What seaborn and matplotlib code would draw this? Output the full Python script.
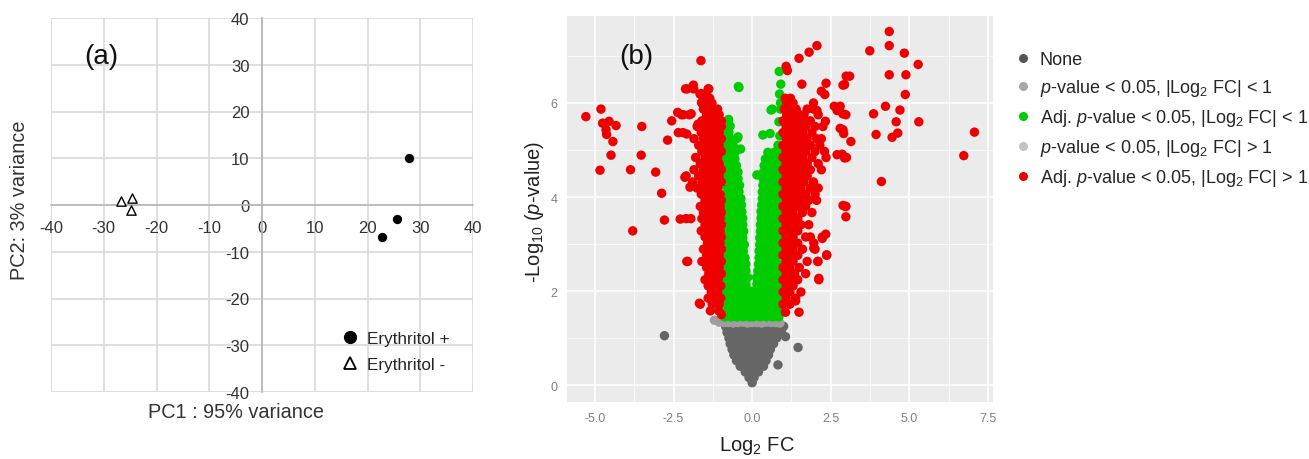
import matplotlib
matplotlib.use("Agg")
import matplotlib.pyplot as plt
from matplotlib.lines import Line2D
import seaborn as sns
import pandas as pd

# ---------------- Panel (a): PCA ----------------
pca_plus_x = [27.8, 25.6, 22.8]
pca_plus_y = [10.0, -3.1, -6.9]
pca_minus_x = [-26.7, -24.6, -24.9]
pca_minus_y = [0.8, 1.5, -1.0]
pca_ticks = [-40, -30, -20, -10, 0, 10, 20, 30, 40]

# ---------------- Panel (b): volcano ----------------
# dense gray triangle ("None"), rows of (y, x values)
none_rows = [
    (0.05, [0.0]),
    (0.16, [-0.1, 0.06]),
    (0.28, [-0.22, -0.06, 0.1, 0.2]),
    (0.40, [-0.38, -0.22, -0.06, 0.1, 0.26, 0.36]),
    (0.52, [-0.5, -0.34, -0.18, -0.02, 0.14, 0.3, 0.44]),
    (0.64, [-0.58, -0.42, -0.26, -0.1, 0.06, 0.22, 0.38, 0.52]),
    (0.76, [-0.64, -0.48, -0.32, -0.16, 0.0, 0.16, 0.32, 0.48, 0.58]),
    (0.88, [-0.7, -0.54, -0.38, -0.22, -0.06, 0.1, 0.26, 0.42, 0.58, 0.68]),
    (1.00, [-0.74, -0.58, -0.42, -0.26, -0.1, 0.06, 0.22, 0.38, 0.54, 0.7, 0.78]),
    (1.12, [-0.8, -0.64, -0.48, -0.32, -0.16, 0.0, 0.16, 0.32, 0.48, 0.64, 0.8]),
    (1.24, [-0.84, -0.68, -0.52, -0.36, -0.2, -0.04, 0.12, 0.28, 0.44, 0.6, 0.76, 0.86]),
]
none_extra_x = [-2.79, 1.06, 1.46, 0.82, 1.0, 0.93]
none_extra_y = [1.05, 1.03, 0.80, 0.43, 1.25, 1.15]

# light gray band (p-value < 0.05, |Log2 FC| < 1)
pval_small_x = [-1.2, -1.05, -0.9, -0.75, -0.6, -0.45, -0.3, -0.15, 0.0, 0.15, 0.3, 0.45, 0.6, 0.75, 0.88]
pval_small_y = [1.38, 1.34, 1.33, 1.33, 1.32, 1.33, 1.34, 1.32, 1.33, 1.33, 1.32, 1.34, 1.33, 1.33, 1.32]

# green (Adj. p-value < 0.05, |Log2 FC| < 1)
green_left_rows = [
    (1.45, [-0.88, -0.68, -0.48, -0.28, -0.08]),
    (1.59, [-0.78, -0.58, -0.38, -0.18, -0.03]),
    (1.73, [-0.88, -0.68, -0.48, -0.28, -0.08]),
    (1.87, [-0.78, -0.58, -0.38, -0.18, -0.05]),
    (2.01, [-0.88, -0.68, -0.48, -0.28, -0.1]),
    (2.15, [-0.78, -0.58, -0.38, -0.2]),
    (2.29, [-0.88, -0.68, -0.48, -0.28, -0.14]),
    (2.43, [-0.78, -0.58, -0.38, -0.2]),
    (2.57, [-0.88, -0.68, -0.48, -0.3, -0.2]),
    (2.71, [-0.78, -0.58, -0.38, -0.23]),
    (2.85, [-0.88, -0.68, -0.48, -0.28]),
    (2.99, [-0.78, -0.58, -0.4, -0.25]),
    (3.13, [-0.88, -0.68, -0.48, -0.3]),
    (3.27, [-0.78, -0.58, -0.4, -0.27]),
    (3.41, [-0.88, -0.68, -0.48, -0.3]),
    (3.55, [-0.78, -0.58, -0.42, -0.3]),
    (3.69, [-0.88, -0.68, -0.5, -0.33]),
    (3.83, [-0.78, -0.58, -0.42, -0.34]),
    (3.97, [-0.88, -0.68, -0.5, -0.36]),
    (4.11, [-0.78, -0.6, -0.42]),
    (4.25, [-0.88, -0.7, -0.52, -0.4]),
    (4.39, [-0.8, -0.62, -0.45]),
    (4.53, [-0.88, -0.7, -0.52, -0.45]),
    (4.67, [-0.8, -0.62, -0.5]),
    (4.81, [-0.88, -0.7, -0.55]),
    (4.95, [-0.8, -0.62, -0.55]),
    (5.09, [-0.88, -0.72, -0.6]),
    (5.23, [-0.82, -0.68]),
    (5.37, [-0.88, -0.74]),
    (5.51, [-0.8, -0.7]),
    (5.65, [-0.75]),
]
green_right_rows = [
    (1.45, [0.05, 0.25, 0.45, 0.65, 0.85]),
    (1.59, [0.15, 0.35, 0.55, 0.75, 0.87]),
    (1.73, [0.05, 0.25, 0.45, 0.65, 0.85]),
    (1.87, [0.15, 0.35, 0.55, 0.75, 0.87]),
    (2.01, [0.08, 0.25, 0.45, 0.65, 0.85]),
    (2.15, [0.15, 0.35, 0.55, 0.75, 0.87]),
    (2.29, [0.14, 0.3, 0.45, 0.65, 0.85]),
    (2.43, [0.18, 0.35, 0.55, 0.75, 0.87]),
    (2.57, [0.2, 0.38, 0.56, 0.72, 0.87]),
    (2.71, [0.22, 0.4, 0.58, 0.75]),
    (2.85, [0.22, 0.38, 0.56, 0.72, 0.87]),
    (2.99, [0.24, 0.42, 0.6, 0.78]),
    (3.13, [0.24, 0.4, 0.56, 0.72, 0.87]),
    (3.27, [0.26, 0.44, 0.62, 0.8]),
    (3.41, [0.26, 0.42, 0.58, 0.74, 0.87]),
    (3.55, [0.28, 0.46, 0.64, 0.82]),
    (3.69, [0.28, 0.44, 0.6, 0.76, 0.87]),
    (3.83, [0.3, 0.48, 0.66, 0.84]),
    (3.97, [0.32, 0.48, 0.64, 0.8]),
    (4.11, [0.32, 0.5, 0.68, 0.86]),
    (4.25, [0.34, 0.5, 0.66, 0.82]),
    (4.39, [0.35, 0.52, 0.7, 0.87]),
    (4.53, [0.36, 0.54, 0.7, 0.84]),
    (4.67, [0.38, 0.56, 0.74, 0.88]),
    (4.81, [0.42, 0.6, 0.78]),
    (4.95, [0.5, 0.7, 0.86]),
]
green_extra_x = [0.91, 0.87, 0.86, 0.6, 0.34, 0.57, 0.15, 0.9, 0.64, 0.85, 0.88, 0.82, 0.9,
                 -0.76, -0.44, -0.96, -0.45, -0.37, -0.47, -0.42]
green_extra_y = [6.40, 6.19, 6.67, 5.85, 5.32, 5.35, 4.47, 5.87, 5.87, 5.6, 5.3, 5.1, 6.0,
                 5.64, 6.35, 5.38, 5.28, 5.02, 5.25, 6.33]

# red (Adj. p-value < 0.05, |Log2 FC| > 1)
red_left_rows = [
    (6.30, [-2.07, -1.86, -1.38]),
    (6.20, [-1.62, -1.45]),
    (6.10, [-1.55, -1.35]),
    (6.00, [-1.6, -1.45, -1.28]),
    (5.87, [-1.55, -1.4, -1.2, -1.1]),
    (5.75, [-2.25, -2.0, -1.45, -1.25, -1.05]),
    (5.62, [-1.6, -1.35, -1.15, -0.98]),
    (5.50, [-1.75, -1.5, -1.3, -1.12, -0.98]),
    (5.37, [-2.2, -1.62, -1.42, -1.22, -1.05]),
    (5.24, [-1.85, -1.55, -1.35, -1.15, -0.98]),
    (5.10, [-1.7, -1.45, -1.25, -1.05]),
    (4.97, [-1.6, -1.4, -1.2, -0.98]),
    (4.84, [-1.8, -1.5, -1.3, -1.1]),
    (4.71, [-1.65, -1.45, -1.25, -1.05]),
    (4.58, [-1.85, -1.55, -1.35, -1.15, -0.98]),
    (4.45, [-2.1, -1.7, -1.45, -1.25, -1.05]),
    (4.32, [-1.9, -1.6, -1.38, -1.18, -0.98]),
    (4.19, [-1.75, -1.5, -1.3, -1.1]),
    (4.06, [-1.62, -1.42, -1.22, -1.02]),
    (3.93, [-1.5, -1.32, -1.12, -0.98]),
    (3.80, [-1.65, -1.4, -1.2, -1.02]),
    (3.67, [-1.55, -1.32, -1.12, -0.98]),
    (3.54, [-2.1, -1.95, -1.6, -1.42, -1.22, -1.02]),
    (3.41, [-1.5, -1.3, -1.1, -0.98]),
    (3.28, [-1.62, -1.4, -1.2, -1.02]),
    (3.15, [-1.5, -1.3, -1.1, -0.98]),
    (3.02, [-1.42, -1.22, -1.02]),
    (2.89, [-1.55, -1.32, -1.12, -0.98]),
    (2.76, [-1.45, -1.25, -1.05]),
    (2.63, [-2.05, -1.6, -1.35, -1.15, -0.98]),
    (2.50, [-1.45, -1.25, -1.05]),
    (2.37, [-1.38, -1.18, -0.98]),
    (2.24, [-1.5, -1.28, -1.08]),
    (2.11, [-1.4, -1.2, -1.0]),
    (1.98, [-1.3, -1.1]),
    (1.85, [-1.4, -1.2, -1.0]),
    (1.72, [-1.65, -1.27, -1.05]),
    (1.58, [-1.33, -1.06]),
    (1.50, [-0.98]),
]
red_right_rows = [
    (6.10, [1.05, 1.22]),
    (6.00, [1.1, 1.3, 1.95]),
    (5.87, [1.02, 1.2, 1.4, 1.75, 1.95]),
    (5.75, [1.1, 1.3, 1.5, 1.65, 2.1]),
    (5.62, [0.98, 1.18, 1.38, 1.58, 1.85]),
    (5.50, [1.08, 1.28, 1.48, 1.7, 2.0, 2.25]),
    (5.37, [0.98, 1.18, 1.38, 1.6, 1.9]),
    (5.24, [1.08, 1.28, 1.48, 1.75, 2.05, 2.2]),
    (5.10, [0.98, 1.18, 1.38, 1.6, 1.85, 2.15]),
    (4.97, [1.08, 1.28, 1.5, 1.7, 2.0, 2.3]),
    (4.84, [0.98, 1.18, 1.38, 1.6, 1.9, 2.35]),
    (4.71, [1.08, 1.28, 1.5, 1.75, 2.1]),
    (4.58, [0.98, 1.18, 1.4, 1.6, 1.85, 2.2]),
    (4.45, [1.08, 1.28, 1.5, 1.75]),
    (4.32, [0.98, 1.18, 1.4, 1.65, 1.95]),
    (4.19, [1.08, 1.3, 1.55, 1.85, 2.1]),
    (4.06, [0.98, 1.2, 1.42, 1.7, 2.0]),
    (3.93, [1.08, 1.3, 1.55, 1.8, 2.05]),
    (3.80, [0.98, 1.2, 1.45, 1.7]),
    (3.67, [1.08, 1.3, 1.6, 1.9]),
    (3.54, [0.98, 1.2, 1.45]),
    (3.41, [1.08, 1.3, 1.55, 1.8]),
    (3.28, [0.98, 1.2, 1.45]),
    (3.15, [1.08, 1.3, 1.7, 1.85, 2.23]),
    (3.02, [0.98, 1.2, 1.45, 1.96]),
    (2.89, [1.08, 1.3, 1.6, 2.0]),
    (2.76, [0.98, 1.2, 1.45, 2.37]),
    (2.63, [1.08, 1.3, 1.75, 2.09]),
    (2.50, [0.98, 1.2, 1.5]),
    (2.37, [1.08, 1.35, 1.7]),
    (2.24, [0.98, 1.2, 1.45, 2.12]),
    (2.11, [1.08, 1.3]),
    (1.98, [0.98, 1.2, 1.55]),
    (1.85, [1.08, 1.38]),
    (1.72, [0.98, 1.2]),
    (1.55, [1.06, 1.49]),
]
red_extra_x = [
    -5.29, -4.81, -4.76, -4.55, -4.33, -4.65, -4.63, -4.43, -4.49, -4.84, -3.87, -3.51,
    -3.53, -3.07, -2.88, -2.69, -2.56, -2.37, -2.19, -1.94, -2.35, -2.08, -2.12, -1.87,
    -1.63, -1.40, -1.66, -1.61, -1.72, -2.14, -1.98, -3.80, -2.79, -2.29, -2.08, -1.68,
    4.36, 4.36, 3.74, 4.84, 5.28, 4.36, 4.89, 4.87, 3.10, 2.94, 4.24, 4.70, 3.86, 4.58,
    5.30, 3.94, 4.45, 4.63, 7.07, 6.73, 4.11, 2.80, 2.98, 2.89, 3.14, 2.86, 3.00, 2.97,
    2.98, 2.98, 2.06, 1.81, 1.49, 1.08, 1.12, 1.58, 2.35, 2.89, 2.99, 2.20, 2.31, 2.06,
    2.61, 2.70, 2.88, 2.80, 2.91, 2.33, 2.70, 2.94, 2.89, 1.38, 2.12, 2.09, 2.37, 1.96,
    2.34, 2.23,
]
red_extra_y = [
    5.71, 5.87, 5.57, 5.61, 5.52, 5.43, 5.33, 5.18, 4.89, 4.57, 4.58, 5.50,
    4.89, 4.53, 4.08, 5.21, 5.62, 5.80, 5.75, 5.77, 5.37, 5.34, 6.30, 6.38,
    6.90, 6.30, 6.19, 6.01, 5.55, 4.42, 4.21, 3.28, 3.51, 3.53, 2.63, 1.74,
    7.52, 7.22, 7.11, 7.06, 6.82, 6.60, 6.60, 6.18, 6.57, 6.39, 5.93, 5.85, 5.77, 5.60,
    5.60, 5.33, 5.27, 5.36, 5.38, 4.88, 4.33, 5.93, 5.75, 5.43, 5.18, 4.91, 4.84, 3.80,
    3.80, 3.58, 7.22, 7.08, 6.95, 6.78, 6.69, 6.40, 6.42, 6.38, 6.57, 6.25, 6.18, 5.84,
    5.93, 5.84, 5.77, 5.46, 5.35, 5.61, 4.90, 4.83, 3.82, 1.79, 2.27, 2.63, 2.77, 2.91,
    3.21, 3.12,
]

categories = ["None",
              r"$p$-value < 0.05, |Log$_2$ FC| < 1",
              r"Adj. $p$-value < 0.05, |Log$_2$ FC| < 1",
              r"$p$-value < 0.05, |Log$_2$ FC| > 1",
              r"Adj. $p$-value < 0.05, |Log$_2$ FC| > 1"]
plot_colors = ["#666666", "#9e9e9e", "#00CC00", "#bdbdbd", "#EE0000"]
legend_colors = ["#555555", "#a8a8a8", "#00CC00", "#c4c4c4", "#EE0000"]
x_ticks_b = [-5.0, -2.5, 0.0, 2.5, 5.0, 7.5]
y_ticks_b = [0, 2, 4, 6]


def expand(rows):
    xs, ys = [], []
    for yv, xrow in rows:
        for xv in xrow:
            xs.append(xv)
            ys.append(yv)
    return xs, ys


parts = []
nx, ny = expand(none_rows)
parts.append(pd.DataFrame({"x": nx + none_extra_x, "y": ny + none_extra_y, "cat": categories[0]}))
parts.append(pd.DataFrame({"x": pval_small_x, "y": pval_small_y, "cat": categories[1]}))
gx1, gy1 = expand(green_left_rows)
gx2, gy2 = expand(green_right_rows)
parts.append(pd.DataFrame({"x": gx1 + gx2 + green_extra_x, "y": gy1 + gy2 + green_extra_y,
                           "cat": categories[2]}))
rx1, ry1 = expand(red_left_rows)
rx2, ry2 = expand(red_right_rows)
parts.append(pd.DataFrame({"x": rx1 + rx2 + red_extra_x, "y": ry1 + ry2 + red_extra_y,
                           "cat": categories[4]}))
volcano = pd.concat(parts, ignore_index=True)

# ---------------- Figure ----------------
sns.set_theme(style="white")
plt.rcParams["font.family"] = ["Liberation Sans", "DejaVu Sans"]
plt.rcParams["mathtext.fontset"] = "custom"
plt.rcParams["mathtext.rm"] = "Liberation Sans"
plt.rcParams["mathtext.it"] = "Liberation Sans:italic"

W, H = 1309, 460
fig = plt.figure(figsize=(W / 100, H / 100), dpi=100)

# Panel (a)
axa = fig.add_axes([51 / W, 1 - 393 / H, 422 / W, 374 / H])
sns.scatterplot(x=pca_plus_x, y=pca_plus_y, ax=axa, marker="o", color="black", s=45,
                linewidth=0, zorder=5)
sns.scatterplot(x=pca_minus_x, y=pca_minus_y, ax=axa, marker="^", facecolor="white",
                edgecolor="black", linewidth=1.0, s=45, zorder=5)
axa.set_xlim(-40, 40)
axa.set_ylim(-40, 40)
axa.set_xticks(pca_ticks)
axa.set_yticks(pca_ticks)
axa.set_xticklabels([str(t) for t in pca_ticks])
axa.set_yticklabels([str(t) for t in pca_ticks])
axa.grid(True, color="#d9d9d9", linewidth=1.2)
axa.set_axisbelow(True)
for s in ["top", "right"]:
    axa.spines[s].set_visible(False)
for s in ["left", "bottom"]:
    axa.spines[s].set_position(("data", 0))
    axa.spines[s].set_color("#b5b5b5")
    axa.spines[s].set_linewidth(1.2)
axa.tick_params(axis="x", length=0, pad=11, labelsize=12, labelcolor="#333333")
axa.tick_params(axis="y", length=0, pad=9, labelsize=12, labelcolor="#333333")
axa.set_xlabel("")
axa.set_ylabel("")
fig.text(236 / W, 1 - 412 / H, "PC1 : 95% variance", ha="center", va="center",
         fontsize=14.3, color="#333333")
fig.text(20 / W, 1 - 200 / H, "PC2: 3% variance", ha="center", va="center",
         rotation=90, fontsize=14.3, color="#333333")
fig.text(101 / W, 1 - 57 / H, "(a)", ha="center", va="center", fontsize=20, color="#111111")
h_a = [Line2D([], [], marker="o", color="black", linestyle="none", markersize=8.5),
       Line2D([], [], marker="^", markerfacecolor="white", markeredgecolor="black",
              color="black", linestyle="none", markersize=8.5, markeredgewidth=1.3)]
axa.legend(h_a, ["Erythritol +", "Erythritol -"], loc="upper left",
           bbox_to_anchor=(341 / W, 1 - 332 / H), bbox_transform=fig.transFigure,
           frameon=False, fontsize=12.3, handlelength=1.0, handletextpad=0.5,
           labelspacing=0.66, borderpad=0, borderaxespad=0)

# Panel (b)
axb = fig.add_axes([567 / W, 1 - 403 / H, 426 / W, 386 / H])
axb.set_facecolor("#EBEBEB")
sns.scatterplot(data=volcano, x="x", y="y", hue="cat", hue_order=categories,
                palette=dict(zip(categories, plot_colors)), s=46, linewidth=0,
                ax=axb, legend=False, zorder=3)
axb.set_xlim(-5.89, 7.66)
axb.set_ylim(-0.36, 7.85)
axb.set_xticks(x_ticks_b)
axb.set_xticklabels([f"{t:.1f}" for t in x_ticks_b])
axb.set_yticks(y_ticks_b)
axb.set_yticklabels([str(t) for t in y_ticks_b])
axb.set_xticks([-3.75, -1.25, 1.25, 3.75, 6.25], minor=True)
axb.set_yticks([1, 3, 5, 7], minor=True)
axb.grid(True, which="major", color="white", linewidth=1.1, zorder=0)
axb.grid(True, which="minor", color="white", linewidth=0.5, zorder=0)
axb.set_axisbelow(True)
for s in axb.spines.values():
    s.set_visible(False)
axb.tick_params(which="major", length=3, width=0.8, color="#8a8a8a", labelsize=9,
                labelcolor="#808080", pad=4)
axb.tick_params(which="minor", length=0)
axb.set_xlabel("")
axb.set_ylabel("")
fig.text(757 / W, 1 - 446 / H, r"Log$_2$ FC", ha="center", va="center", fontsize=14.5,
         color="#222222")
fig.text(535 / W, 1 - 212 / H, r"-Log$_{10}$ ($p$-value)", ha="center", va="center",
         rotation=90, fontsize=14.5, color="#222222")
fig.text(636 / W, 1 - 57 / H, "(b)", ha="center", va="center", fontsize=20, color="#111111")

h_b = [Line2D([], [], marker="o", color=c, linestyle="none", markersize=5.5) for c in legend_colors]
fig.legend(h_b, categories, loc="upper left", bbox_to_anchor=(1018 / W, 1 - 52 / H),
           frameon=False, fontsize=13, handlelength=0.6, handletextpad=0.6,
           labelspacing=0.5, borderpad=0, borderaxespad=0)

fig.savefig("out.png", dpi=100)
